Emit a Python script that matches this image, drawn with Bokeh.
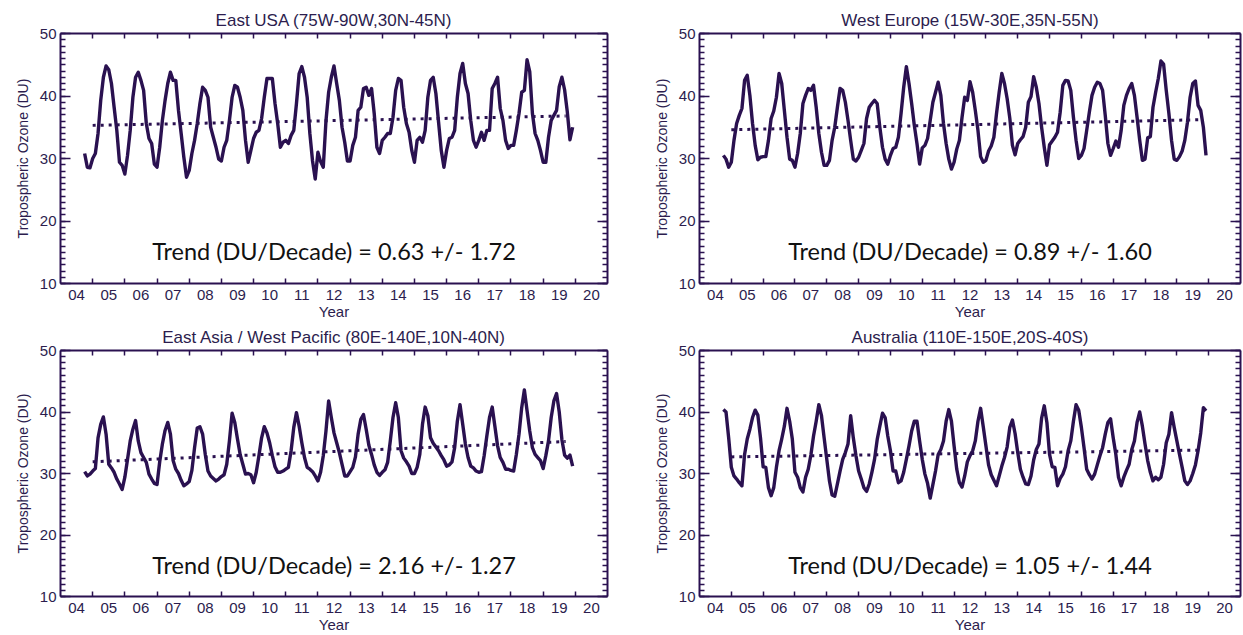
from bokeh.plotting import figure
from bokeh.models import FixedTicker, LinearAxis, Range1d, Label
from bokeh.layouts import column, row
from bokeh.embed import file_html
from bokeh.resources import INLINE

# ---------------- data ----------------
# monthly means, Oct 2004 .. Dec 2019 (month index 0 = Oct 2004)
first_year = 2004
first_month = 10

east_usa = [
    30.8, 28.6, 28.5, 30.0, 30.8, 34.0, 39.3, 43.0, 44.8, 44.2, 42.0, 38.2,
    34.5, 29.4, 28.9, 27.5, 30.5, 34.5, 39.8, 43.0, 43.8, 42.5, 40.9, 35.6,
    33.2, 32.4, 29.1, 28.6, 31.8, 36.1, 39.3, 42.0, 43.8, 42.5, 42.5, 37.7,
    34.0, 30.2, 27.0, 28.1, 30.8, 32.9, 35.6, 38.8, 41.4, 40.9, 39.8, 35.0,
    33.4, 31.8, 29.9, 29.6, 31.8, 32.9, 36.1, 39.8, 41.7, 41.4, 39.8, 37.7,
    32.9, 29.4, 31.3, 33.2, 34.2, 34.5, 36.4, 39.8, 42.8, 42.8, 42.8, 38.8,
    35.6, 31.8, 32.6, 32.9, 32.4, 33.7, 34.5, 38.8, 43.6, 44.7, 43.0, 39.8,
    34.0, 29.6, 26.7, 31.0, 29.5, 28.6, 36.0, 40.6, 43.0, 44.8, 42.0, 39.3,
    35.0, 32.6, 29.6, 29.6, 32.1, 33.4, 37.7, 38.2, 41.2, 41.4, 40.1, 41.2,
    37.2, 31.8, 30.8, 32.9, 33.4, 34.0, 34.0, 36.6, 40.9, 42.8, 42.5, 38.2,
    35.6, 34.2, 31.3, 29.4, 32.9, 33.4, 32.6, 34.5, 39.8, 42.5, 43.0, 40.4,
    35.8, 31.3, 28.6, 31.3, 33.2, 33.4, 34.5, 39.8, 43.6, 45.2, 42.0, 40.4,
    36.1, 32.9, 31.8, 32.9, 34.2, 32.9, 34.5, 34.5, 41.2, 42.0, 43.0, 38.0,
    36.1, 32.9, 31.6, 32.1, 32.1, 34.5, 37.2, 40.6, 40.9, 45.8, 43.9, 37.2,
    34.0, 32.9, 31.3, 29.4, 29.4, 33.4, 36.1, 36.9, 37.7, 41.5, 43.0, 41.0,
    37.5, 33.0, 35.0,
]

west_europe = [
    30.5, 29.9, 28.6, 29.4, 32.9, 35.6, 36.9, 38.0, 42.5, 43.3, 40.1, 35.6,
    32.1, 29.8, 30.2, 30.3, 30.3, 32.9, 36.4, 37.6, 39.8, 43.6, 42.0, 37.7,
    33.4, 29.9, 29.7, 28.6, 30.8, 34.0, 38.8, 40.1, 41.2, 40.9, 41.7, 38.2,
    34.0, 31.0, 28.9, 28.9, 29.7, 32.9, 35.0, 38.2, 41.2, 40.9, 39.0, 36.1,
    32.9, 29.9, 29.6, 30.2, 31.3, 32.4, 36.4, 38.2, 38.8, 39.3, 38.8, 35.0,
    31.8, 29.9, 29.1, 30.5, 31.6, 31.8, 33.4, 37.2, 41.4, 44.7, 42.0, 38.8,
    35.3, 32.4, 29.1, 31.7, 32.1, 33.2, 36.1, 39.0, 40.6, 42.2, 40.1, 35.6,
    32.4, 29.9, 28.3, 29.4, 31.5, 32.9, 36.6, 39.8, 39.3, 42.3, 40.6, 37.7,
    34.5, 30.3, 29.4, 29.7, 31.2, 32.0, 33.4, 37.2, 40.6, 43.6, 42.0, 39.6,
    36.5, 32.1, 30.6, 32.4, 33.0, 33.5, 35.0, 39.0, 39.9, 43.1, 41.4, 38.8,
    35.0, 31.8, 28.9, 32.2, 32.8, 33.4, 34.2, 37.4, 41.7, 42.5, 42.4, 40.9,
    36.6, 32.9, 30.0, 30.5, 31.6, 34.5, 37.4, 40.1, 41.4, 42.2, 42.0, 40.9,
    36.9, 32.4, 30.5, 31.6, 32.8, 31.8, 34.5, 38.5, 40.1, 41.2, 42.0, 40.1,
    36.6, 32.9, 29.7, 29.9, 33.3, 33.5, 38.2, 40.6, 42.8, 45.6, 45.1, 40.9,
    37.2, 32.9, 29.9, 29.7, 30.3, 31.2, 32.9, 35.8, 39.8, 42.0, 42.4, 38.5,
    37.7, 35.0, 30.5,
]

east_asia = [
    30.3, 29.6, 29.9, 30.4, 30.8, 35.8, 38.0, 39.2, 36.4, 31.5, 30.9, 30.2,
    29.1, 28.3, 27.4, 29.4, 32.3, 35.3, 37.2, 38.6, 35.3, 33.4, 32.6, 31.8,
    29.9, 29.1, 28.4, 28.2, 31.9, 34.8, 37.0, 38.3, 36.4, 32.1, 30.7, 30.0,
    28.9, 28.0, 28.3, 28.7, 30.5, 34.2, 37.4, 37.6, 36.4, 33.1, 30.4, 29.6,
    29.2, 28.8, 29.1, 29.5, 29.8, 31.5, 35.3, 39.8, 38.3, 35.6, 33.1, 31.5,
    29.9, 30.0, 29.8, 28.5, 30.2, 32.9, 35.8, 37.6, 36.6, 35.0, 32.9, 31.1,
    30.2, 30.2, 30.4, 30.7, 31.0, 33.7, 37.5, 39.9, 37.7, 35.0, 32.6, 31.0,
    30.7, 30.3, 29.6, 28.8, 30.2, 32.9, 36.9, 41.8, 39.1, 36.6, 35.0, 33.4,
    31.5, 29.6, 29.6, 30.3, 31.0, 32.7, 36.4, 38.8, 39.6, 37.2, 34.6, 33.1,
    31.4, 30.2, 29.7, 30.2, 30.6, 31.8, 35.3, 39.1, 41.5, 39.1, 33.7, 32.5,
    31.9, 31.2, 30.0, 30.0, 31.0, 33.1, 38.0, 40.8, 39.4, 35.8, 34.9, 34.3,
    33.7, 32.9, 32.2, 31.2, 31.4, 31.9, 34.2, 38.5, 41.2, 38.0, 34.8, 32.6,
    31.2, 30.9, 30.4, 30.2, 30.3, 32.9, 36.1, 39.1, 40.8, 37.7, 34.5, 32.6,
    31.8, 30.7, 30.7, 30.5, 30.4, 33.1, 36.4, 40.7, 43.6, 40.2, 36.9, 34.2,
    33.1, 32.6, 32.1, 30.8, 32.9, 35.3, 39.1, 41.8, 43.0, 40.0, 35.5, 33.0,
    32.5, 33.0, 31.2,
]

australia = [
    40.4, 40.0, 35.8, 31.0, 29.6, 29.1, 28.5, 28.0, 33.1, 35.6, 37.2, 39.1,
    40.3, 39.5, 35.8, 31.1, 31.0, 27.7, 26.4, 27.7, 31.0, 33.7, 35.6, 37.7,
    40.6, 38.5, 35.6, 30.2, 29.4, 27.7, 27.0, 29.4, 30.7, 33.0, 36.1, 38.5,
    41.2, 39.4, 35.8, 32.3, 28.8, 26.5, 26.3, 28.3, 30.4, 32.3, 33.4, 34.8,
    39.4, 35.8, 32.9, 30.4, 29.1, 27.7, 27.1, 28.3, 30.2, 32.3, 35.5, 37.7,
    39.8, 39.1, 36.1, 33.7, 30.4, 30.4, 28.5, 28.8, 30.2, 32.3, 34.5, 36.9,
    38.5, 38.5, 35.3, 32.3, 29.9, 28.4, 26.0, 28.2, 30.4, 33.1, 33.9, 35.3,
    38.5, 40.4, 38.5, 34.5, 30.7, 28.5, 27.8, 29.6, 31.9, 32.9, 33.7, 35.3,
    38.5, 40.6, 37.6, 34.5, 31.4, 29.8, 28.9, 28.0, 29.6, 31.2, 32.6, 34.3,
    37.5, 38.7, 36.5, 33.4, 30.7, 29.4, 28.3, 28.2, 29.6, 32.2, 33.9, 34.8,
    39.0, 41.0, 38.3, 33.1, 31.1, 31.0, 28.0, 29.2, 29.9, 31.1, 33.7, 35.3,
    38.5, 41.2, 40.3, 37.5, 34.2, 30.7, 29.8, 29.1, 29.9, 31.4, 32.9, 34.2,
    36.4, 38.3, 38.9, 35.8, 33.1, 29.4, 28.0, 29.4, 30.5, 31.5, 33.9, 35.3,
    38.3, 40.0, 37.7, 34.8, 32.1, 30.2, 28.8, 29.4, 29.0, 29.4, 31.5, 35.0,
    36.4, 39.9, 37.5, 35.3, 33.1, 31.0, 28.8, 28.2, 28.8, 30.0, 31.4, 33.7,
    36.6, 40.7, 40.2,
]

trend_years = [2005.0, 2019.7]
east_usa_trend = [35.3, 36.8]
west_europe_trend = [34.6, 36.2]
east_asia_trend = [31.9, 35.2]
australia_trend = [32.7, 33.8]

titles = [
    "East USA (75W-90W,30N-45N)",
    "West Europe (15W-30E,35N-55N)",
    "East Asia / West Pacific (80E-140E,10N-40N)",
    "Australia (110E-150E,20S-40S)",
]
trend_texts = [
    "Trend (DU/Decade) = 0.63 +/- 1.72",
    "Trend (DU/Decade) = 0.89 +/- 1.60",
    "Trend (DU/Decade) = 2.16 +/- 1.27",
    "Trend (DU/Decade) = 1.05 +/- 1.44",
]
year_labels = ["04", "05", "06", "07", "08", "09", "10", "11", "12",
               "13", "14", "15", "16", "17", "18", "19", "20"]
y_ticks = [10, 20, 30, 40, 50]

# ---------------- style ----------------
LINE = "#2a1150"
TEXT = "#2c1d4e"
FONT = "Liberation Sans"


def month_x(n):
    return [first_year + (first_month - 1) / 12 + i / 12 for i in range(n)]


def make_panel(title, vals, trend_vals, trend_text, width, height, bl, br, bt, bb):
    p = figure(width=width, height=height, output_backend="svg", toolbar_location=None,
               tools="", x_range=Range1d(2004, 2021), y_range=Range1d(10, 50),
               x_axis_location=None, y_axis_location=None,
               min_border_left=bl, min_border_right=br, min_border_top=bt,
               min_border_bottom=bb)
    p.outline_line_color = None
    p.xgrid.visible = False
    p.ygrid.visible = False
    p.background_fill_color = "white"
    p.border_fill_color = "white"

    label_pos = [2004.5 + i for i in range(len(year_labels))]
    year_bounds = [2005 + i for i in range(16)]
    minor_y = list(range(10, 51))

    def style(ax, show_labels, ticks):
        ax.axis_line_color = LINE
        ax.axis_line_width = 2
        ax.major_tick_line_color = LINE
        ax.minor_tick_line_color = LINE
        ax.major_tick_line_width = 1.5
        ax.minor_tick_line_width = 1.5
        ax.major_tick_out = 0
        ax.minor_tick_out = 0
        ax.major_label_text_color = TEXT
        ax.major_label_text_font = FONT
        ax.major_label_text_font_size = "15px"
        if not show_labels:
            ax.major_label_overrides = {t: "" for t in ticks}
            ax.major_label_standoff = 0

    for loc, show in (("below", True), ("above", False)):
        ax = LinearAxis(ticker=FixedTicker(ticks=label_pos, minor_ticks=year_bounds))
        style(ax, show, label_pos)
        ax.major_tick_in = 0
        ax.minor_tick_in = 5
        if show:
            ax.major_label_overrides = {pos: lab for pos, lab in zip(label_pos, year_labels)}
            ax.major_label_standoff = 6
            ax.axis_label = "Year"
            ax.axis_label_standoff = 0
            ax.axis_label_text_font = FONT
            ax.axis_label_text_font_size = "15px"
            ax.axis_label_text_font_style = "normal"
            ax.axis_label_text_color = TEXT
        p.add_layout(ax, loc)

    for loc, show in (("left", True), ("right", False)):
        ax = LinearAxis(ticker=FixedTicker(ticks=y_ticks, minor_ticks=minor_y))
        style(ax, show, y_ticks)
        ax.major_tick_in = 10
        ax.minor_tick_in = 5
        if show:
            ax.major_label_standoff = 4
            ax.axis_label = "Tropospheric Ozone (DU)"
            ax.axis_label_standoff = 6
            ax.axis_label_text_font = FONT
            ax.axis_label_text_font_size = "14px"
            ax.axis_label_text_font_style = "normal"
            ax.axis_label_text_color = TEXT
        p.add_layout(ax, loc)

    p.title.text = title
    p.title.align = "center"
    p.title.text_font = FONT
    p.title.text_font_size = "17px"
    p.title.text_font_style = "normal"
    p.title.text_color = TEXT
    p.title.standoff = 7

    xs = month_x(len(vals))
    p.line(xs, vals, line_color=LINE, line_width=3.4, line_join="round")
    p.line(trend_years, trend_vals, line_color=LINE, line_width=3, line_dash="3 5")

    p.add_layout(Label(x=(p.x_range.start + p.x_range.end) / 2, y=15.2, x_units="data",
                       y_units="data", text=trend_text, text_align="center",
                       text_baseline="middle", text_font="Lato", text_font_size="23.5px",
                       text_color="#111111"))
    return p


p1 = make_panel(titles[0], east_usa, east_usa_trend, trend_texts[0], 621, 322, 60, 14, 33, 39)
p2 = make_panel(titles[1], west_europe, west_europe_trend, trend_texts[1], 622, 322, 78, 3, 33, 39)
p3 = make_panel(titles[2], east_asia, east_asia_trend, trend_texts[2], 621, 313, 60, 14, 27, 39)
p4 = make_panel(titles[3], australia, australia_trend, trend_texts[3], 622, 313, 78, 3, 27, 39)

layout = column(row(p1, p2, spacing=0), row(p3, p4, spacing=0), spacing=0)

open("out.html", "w").write(file_html(layout, INLINE))
